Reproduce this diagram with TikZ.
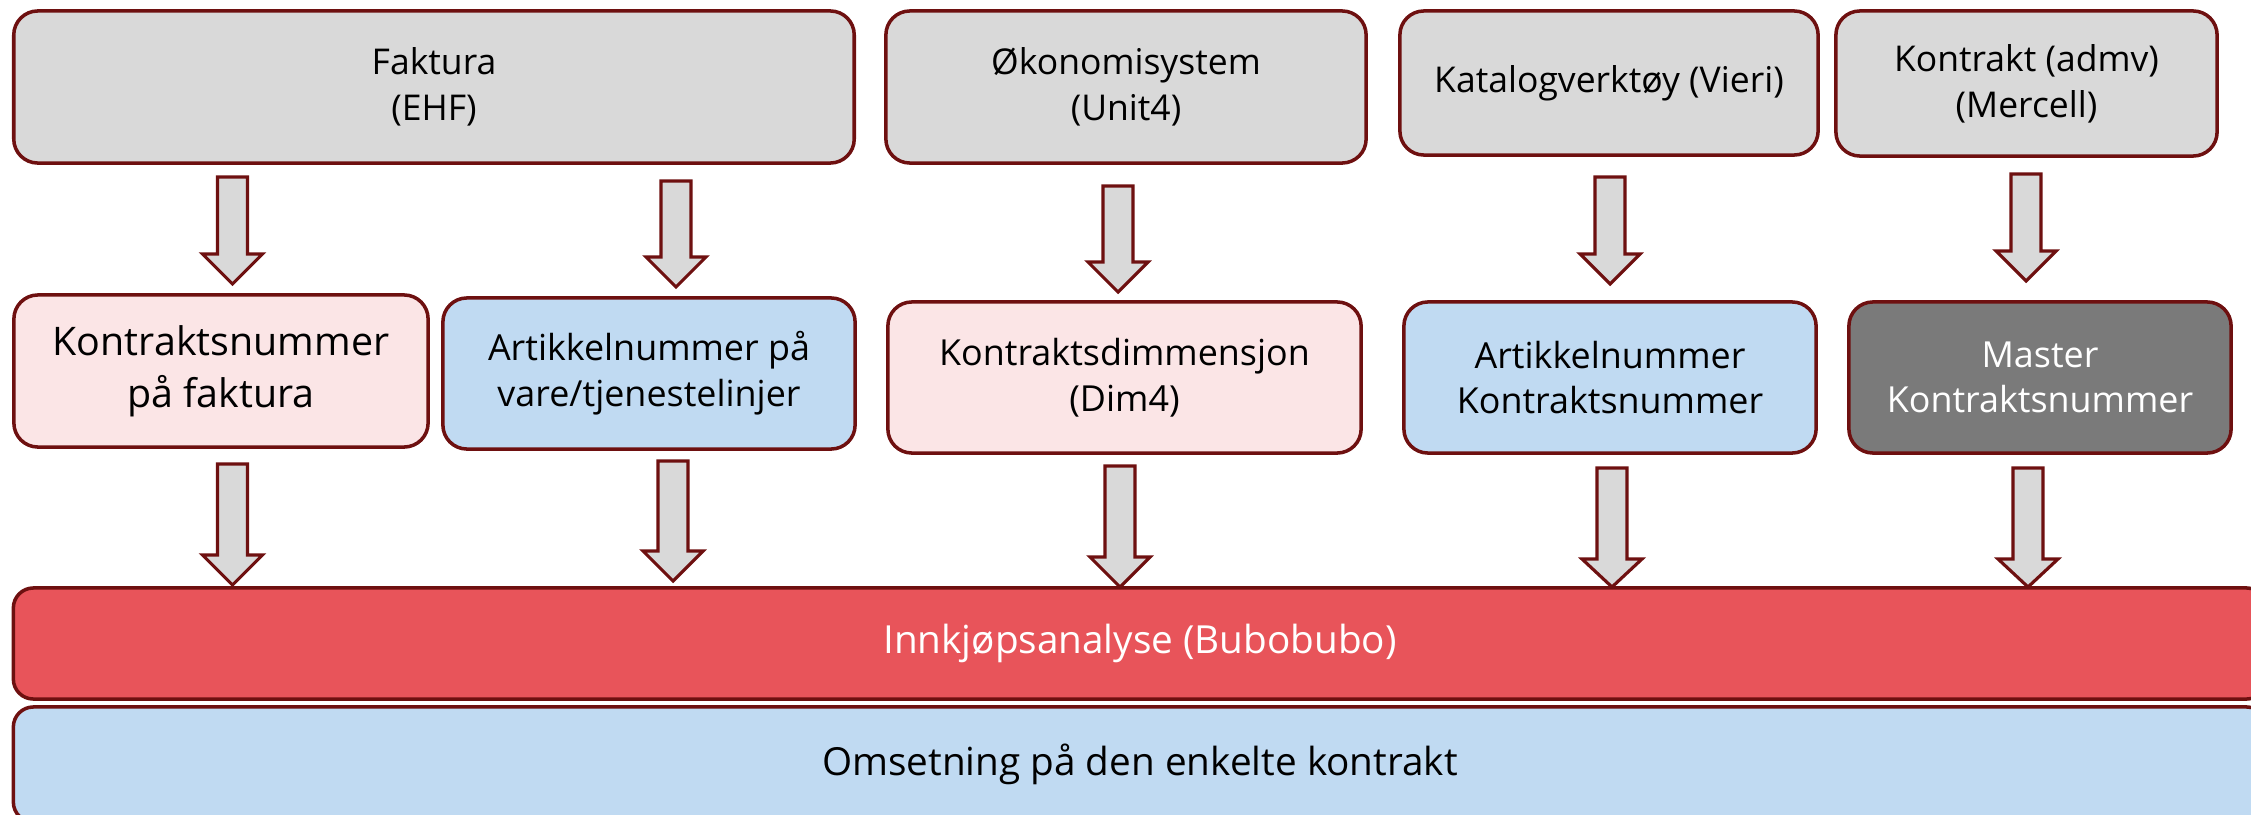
\documentclass[tikz,border=0pt]{standalone}
\usepackage{fontspec}
\setmainfont{Open Sans}
\definecolor{edge}{RGB}{110,16,16}
\definecolor{greyfill}{RGB}{217,217,217}
\definecolor{pinkfill}{RGB}{251,229,230}
\definecolor{bluefill}{RGB}{192,218,242}
\definecolor{darkfill}{RGB}{122,122,122}
\definecolor{redfill}{RGB}{232,84,90}
\newcommand\blkarrow[5]{% name, x, top, headstart, tip
  \draw[blockarrow] (#2-15,#3) -- (#2+15,#3) -- (#2+15,#4) -- (#2+30,#4) -- (#2,#5)
    coordinate (#1) -- (#2-30,#4) -- (#2-15,#4) -- cycle;}
\tikzset{
  box/.style={draw=edge, line width=1pt, rounded corners=0.24cm, align=center, inner sep=0pt},
  topbox/.style={box, fill=greyfill, font=\fontsize{10.1}{13}\selectfont},
  midbox/.style={box, font=\fontsize{10.2}{13}\selectfont},
  barbox/.style={box, rounded corners=0.2cm, font=\fontsize{11}{13}\selectfont},
  blockarrow/.style={draw=edge, fill=greyfill, line width=0.9pt, line join=miter}
}
\begin{document}
\begin{tikzpicture}[x=0.01cm, y=-0.01cm]
\useasboundingbox (0,0) rectangle (2251,815);
\clip (0,0) rectangle (2251,815);
% top row
\node[topbox, minimum width=8.40cm, minimum height=1.52cm] (faktura) at (434,87) {Faktura\\(EHF)};
\node[topbox, minimum width=4.80cm, minimum height=1.52cm] (okonomi) at (1126,87) {Økonomisystem\\(Unit4)};
\node[topbox, minimum width=4.18cm, minimum height=1.44cm] (katalog) at (1609,83) {Katalogverktøy (Vieri)};
\node[topbox, minimum width=3.81cm, minimum height=1.45cm] (kontrakt) at (2026.5,83.5) {Kontrakt (admv)\\(Mercell)};
% middle row
\node[midbox, fill=pinkfill, font=\fontsize{11.2}{14.8}\selectfont, minimum width=4.14cm, minimum height=1.52cm] (knr) at (221,371) {Kontraktsnummer\\på faktura};
\node[midbox, fill=bluefill, minimum width=4.12cm, minimum height=1.51cm] (artnr) at (649,373.5) {Artikkelnummer på\\vare/tjenestelinjer};
\node[midbox, fill=pinkfill, minimum width=4.73cm, minimum height=1.51cm] (dim) at (1124.5,377.5) {Kontraktsdimmensjon\\(Dim4)};
\node[midbox, fill=bluefill, minimum width=4.12cm, minimum height=1.51cm] (artknr) at (1610,377.5) {Artikkelnummer\\Kontraktsnummer};
\node[midbox, fill=darkfill, text=white, minimum width=3.82cm, minimum height=1.51cm] (master) at (2040,377.5) {Master\\Kontraktsnummer};
% bars
\node[barbox, fill=redfill, text=white, minimum width=22.52cm, minimum height=1.11cm] (analyse) at (1140,643.5) {Innkjøpsanalyse (Bubobubo)};
\node[barbox, fill=bluefill, minimum width=22.52cm, minimum height=1.15cm] (omsetning) at (1140,764.5) {Omsetning på den enkelte kontrakt};
% arrows row 1
\blkarrow{a1}{232.5}{177}{254}{284}
\blkarrow{a2}{676}{181}{257}{287}
\blkarrow{a3}{1118}{186}{262}{292}
\blkarrow{a4}{1610}{177}{254}{284}
\blkarrow{a5}{2026}{174}{251}{281}
% arrows row 2
\blkarrow{b1}{232.5}{464}{555}{585}
\blkarrow{b2}{673}{461}{551}{581}
\blkarrow{b3}{1120}{466}{557}{587}
\blkarrow{b4}{1612}{468}{559}{587}
\blkarrow{b5}{2028}{468}{559}{587}
\end{tikzpicture}
\end{document}
